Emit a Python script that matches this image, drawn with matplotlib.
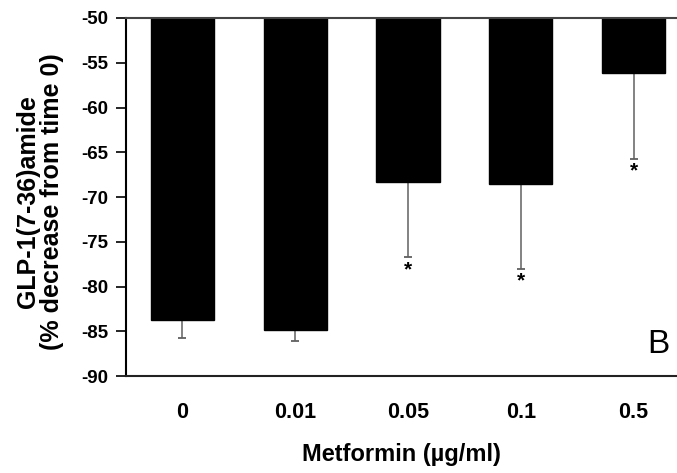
import matplotlib
matplotlib.use("Agg")
import matplotlib.pyplot as plt
import numpy as np

categories = ["0", "0.01", "0.05", "0.1", "0.5"]
values = [-83.7, -84.9, -68.3, -68.5, -56.1]
errors = [2.1, 1.2, 8.4, 9.5, 9.6]
significant = [False, False, True, True, True]
yticks = [-90, -85, -80, -75, -70, -65, -60, -55, -50]

plt.rcParams['font.family'] = ['Liberation Sans', 'DejaVu Sans']

fig = plt.figure(figsize=(6.77, 4.73), dpi=100)
ax = fig.add_axes([126/677, 1-376/473, 1-126/677, 358/473])

x = np.arange(len(categories))
base = -50
heights = [v - base for v in values]
ax.bar(x, heights, bottom=base, width=0.56, color='black', edgecolor='black', zorder=2)
for xi, v, e, s in zip(x, values, errors, significant):
    ax.errorbar([xi], [v], yerr=[[e], [0]], fmt='none', ecolor='#606060',
                elinewidth=1.1, capsize=3, capthick=1.3, zorder=1)
    if s:
        ax.text(xi, v - e - 1.4, '*', ha='center', va='center', fontsize=15,
                fontweight='bold')

ax.set_ylim(-90, -50)
ax.set_xlim(-0.5, 4.385)
ax.set_yticks(yticks)
ax.set_yticklabels([str(t) for t in yticks], fontsize=13.5, fontweight='bold')
ax.set_xticks(x)
ax.set_xticklabels(categories, fontsize=15.5, fontweight='bold')
ax.tick_params(axis='x', length=0, pad=19)
ax.tick_params(axis='y', direction='out', length=7, width=1.2, pad=6)

ax.spines['right'].set_visible(False)
for sp in ['left', 'bottom', 'top']:
    ax.spines[sp].set_linewidth(1.5)
ax.spines['top'].set_color('#444444')
ax.spines['bottom'].set_color('#222222')

fig.text(40/677, 1-202/473, 'GLP-1(7-36)amide\n(% decrease from time 0)',
         rotation=90, ha='center', va='center', fontsize=18,
         fontweight='bold', linespacing=1.0)
ax.set_xlabel('Metformin (\u00b5g/ml)', fontsize=17, fontweight='bold', labelpad=14)

ax.text(4.22, -86.5, 'B', fontsize=24, ha='center', va='center')

fig.savefig('out.png', dpi=100)
